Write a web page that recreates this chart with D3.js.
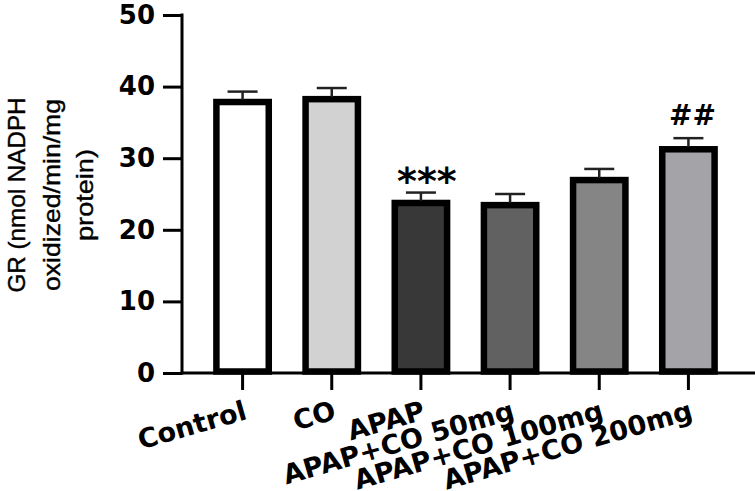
<!DOCTYPE html>
<html>
<head>
<meta charset="utf-8">
<script src="https://cdn.jsdelivr.net/npm/d3@7"></script>
<style>
  html, body { margin: 0; padding: 0; background: #fff; }
  svg { display: block; }
</style>
</head>
<body>
<svg id="chart" width="755" height="491"></svg>
<script>
// ---- data ----
const categories = ["Control", "CO", "APAP", "APAP+CO 50mg", "APAP+CO 100mg", "APAP+CO 200mg"];
const means = [38.3, 38.7, 24.2, 23.9, 27.4, 31.7];
const sems = [1.0, 1.1, 1.0, 1.1, 1.1, 1.1];
const fills = ["#ffffff", "#d2d2d2", "#383838", "#616161", "#858585", "#a4a4a8"];
const yTicks = [0, 10, 20, 30, 40, 50];
const annotations = ["", "", "***", "", "", "##"];
const yLabelLines = ["GR (nmol NADPH", "oxidized/min/mg", "protein)"];

// ---- layout ----
const W = 755, H = 491;
const axisX = 182, y0px = 373, y50px = 15;
const svg = d3.select("#chart");

const y = d3.scaleLinear().domain([0, 50]).range([y0px, y50px]);
const x = d3.scaleBand().domain(categories).range([198, 733]).paddingInner(0.34).paddingOuter(0.17);
const bw = x.bandwidth();
const sw = 6.5;

// bars
svg.append("g").selectAll("rect").data(categories).join("rect")
  .attr("x", d => x(d) + sw / 2)
  .attr("width", bw - sw)
  .attr("y", (d, i) => y(means[i]) + sw / 2)
  .attr("height", (d, i) => y0px - 1.5 - (y(means[i]) + sw / 2))
  .attr("fill", (d, i) => fills[i])
  .attr("stroke", "#000")
  .attr("stroke-width", sw);

// error bars
const eg = svg.append("g").attr("stroke", "#222").attr("stroke-width", 2.5);
categories.forEach((c, i) => {
  const cx = x(c) + bw / 2;
  eg.append("line").attr("x1", cx).attr("x2", cx)
    .attr("y1", y(means[i]) + 1).attr("y2", y(means[i] + sems[i]));
  eg.append("line").attr("x1", cx - 15).attr("x2", cx + 15)
    .attr("y1", y(means[i] + sems[i])).attr("y2", y(means[i] + sems[i]));
});

// annotations
categories.forEach((c, i) => {
  if (!annotations[i]) return;
  const isStar = annotations[i].startsWith("*");
  svg.append("text")
    .attr("x", x(c) + bw / 2 + (isStar ? 6 : 4))
    .attr("y", isStar ? y(means[i] + sems[i]) + 1 : y(means[i] + sems[i]) - 13)
    .attr("text-anchor", "middle")
    .attr("font-family", "DejaVu Sans")
    .attr("font-weight", "bold")
    .attr("font-size", isStar ? 38 : 28)
    .attr("fill", "#000")
    .text(annotations[i]);
});

// y axis
const yAxis = d3.axisLeft(y).tickValues(yTicks).tickSize(19).tickSizeOuter(0).tickPadding(8);
const gy = svg.append("g").attr("transform", `translate(${axisX},0)`).call(yAxis);
gy.select(".domain").remove();
gy.selectAll(".tick line").attr("stroke", "#000").attr("stroke-width", 3);
gy.selectAll(".tick text")
  .attr("font-family", "DejaVu Sans").attr("font-weight", "bold")
  .attr("font-size", 26).attr("fill", "#000");
svg.append("line").attr("x1", axisX).attr("x2", axisX)
  .attr("y1", y(50) - 1.5).attr("y2", y0px + 1.5)
  .attr("stroke", "#000").attr("stroke-width", 3);

// x axis
const xAxis = d3.axisBottom(x).tickSize(17).tickSizeOuter(0).tickPadding(0);
const gx = svg.append("g").attr("transform", `translate(0,${y0px})`).call(xAxis);
gx.select(".domain").remove();
gx.selectAll(".tick line").attr("stroke", "#000").attr("stroke-width", 3);
gx.selectAll(".tick text")
  .attr("y", 0).attr("dy", "0.76em")
  .attr("text-anchor", "end")
  .attr("transform", "translate(0,26) rotate(-16)")
  .attr("font-family", "DejaVu Sans").attr("font-weight", "bold")
  .attr("font-size", 27).attr("fill", "#000");
svg.append("line").attr("x1", axisX - 1.5).attr("x2", W)
  .attr("y1", y0px).attr("y2", y0px)
  .attr("stroke", "#000").attr("stroke-width", 3);

// y label
const yl = svg.append("text")
  .attr("transform", "translate(0,195) rotate(-90)")
  .attr("text-anchor", "middle")
  .attr("font-family", "Liberation Sans, Arial, sans-serif")
  .attr("font-size", 24).attr("fill", "#000")
  .attr("stroke", "#000").attr("stroke-width", 0.4);
const baselines = [25, 60, 93];
const lineLengths = [195, 192, 92];
yLabelLines.forEach((t, i) => {
  yl.append("tspan").attr("x", 0).attr("y", baselines[i])
    .attr("textLength", lineLengths[i]).attr("lengthAdjust", "spacingAndGlyphs")
    .text(t);
});
</script>
</body>
</html>
